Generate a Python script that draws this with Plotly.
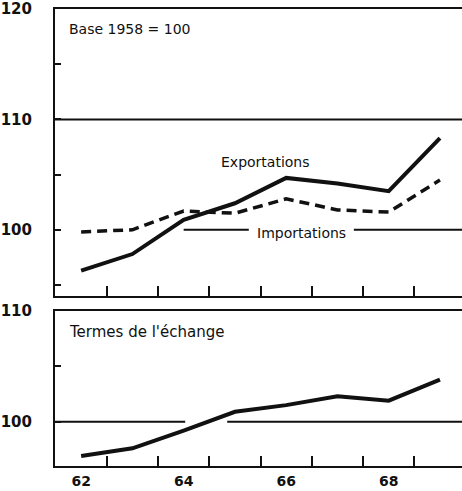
import plotly.graph_objects as go

years = [62, 63, 64, 65, 66, 67, 68, 69]
exportations = [96.3, 97.8, 100.9, 102.4, 104.7, 104.2, 103.5, 108.3]
importations = [99.8, 100.0, 101.7, 101.5, 102.8, 101.8, 101.6, 104.5]
termes = [96.9, 97.6, 99.2, 100.9, 101.5, 102.3, 101.9, 103.8]

x_tick_years = [62, 64, 66, 68]
x_tick_labels = ["62", "64", "66", "68"]
x_minor = [62.5, 63.5, 64.5, 65.5, 66.5, 67.5, 68.5]
top_ticks = [100, 110, 120]
top_minor = [95, 105, 115]
bot_ticks = [100, 110]
bot_minor = [105]

XR = [61.49, 69.43]
TOP_R = [94, 120]
BOT_R = [96, 110]

BLACK = "#111111"
TICKFONT = dict(family="DejaVu Sans", size=15, color=BLACK, weight="bold")
XTICKFONT = dict(family="DejaVu Sans", size=14, color=BLACK, weight="bold")
TXTFONT = dict(family="DejaVu Sans", size=14, color=BLACK)

fig = go.Figure()
fig.add_trace(go.Scatter(x=years, y=exportations, mode="lines",
                         line=dict(color=BLACK, width=4), xaxis="x", yaxis="y"))
fig.add_trace(go.Scatter(x=years, y=importations, mode="lines",
                         line=dict(color=BLACK, width=3.5, dash="10px,6px"), xaxis="x", yaxis="y"))
fig.add_trace(go.Scatter(x=years, y=termes, mode="lines",
                         line=dict(color=BLACK, width=4), xaxis="x2", yaxis="y2"))

top_dom = [0.372, 1.0]
bot_dom = [0.0, 0.339]

xcommon = dict(range=XR, showline=True, linecolor=BLACK, linewidth=2, mirror=True,
               showgrid=False, zeroline=False, fixedrange=True, automargin=False)

fig.update_layout(
    width=462, height=491,
    margin=dict(l=55, r=0, t=9, b=25, autoexpand=False),
    paper_bgcolor="white", plot_bgcolor="white",
    showlegend=False,
    xaxis=dict(**xcommon, anchor="y", domain=[0, 1], tickvals=x_tick_years,
               showticklabels=False, ticks="",
               minor=dict(tickvals=x_minor, ticks="inside", ticklen=10, tickwidth=2, tickcolor=BLACK)),
    xaxis2=dict(**xcommon, anchor="y2", domain=[0, 1], tickvals=x_tick_years, ticktext=x_tick_labels,
                ticks="", tickfont=XTICKFONT, ticklabelstandoff=1,
                minor=dict(tickvals=x_minor, ticks="inside", ticklen=10, tickwidth=2, tickcolor=BLACK)),
    yaxis=dict(range=TOP_R, domain=top_dom, anchor="x", showline=True, linecolor=BLACK, linewidth=2,
               showgrid=False, zeroline=False, tickvals=top_ticks, ticks="inside", ticklen=6,
               tickwidth=2, tickcolor=BLACK, tickfont=TICKFONT, ticklabelstandoff=18, automargin=False,
               fixedrange=True,
               minor=dict(tickvals=top_minor, ticks="inside", ticklen=6, tickwidth=2, tickcolor=BLACK)),
    yaxis3=dict(range=TOP_R, overlaying="y", side="right", anchor="x", showline=False, automargin=False,
                showgrid=False, zeroline=False, showticklabels=False, tickvals=top_minor,
                ticks="inside", ticklen=6, tickwidth=2, tickcolor=BLACK, fixedrange=True),
    yaxis2=dict(range=BOT_R, domain=bot_dom, anchor="x2", showline=True, linecolor=BLACK, linewidth=2,
                showgrid=False, zeroline=False, tickvals=bot_ticks, ticks="inside", ticklen=6,
                tickwidth=2, tickcolor=BLACK, tickfont=TICKFONT, ticklabelstandoff=18, automargin=False,
                fixedrange=True,
                minor=dict(tickvals=bot_minor, ticks="inside", ticklen=6, tickwidth=2, tickcolor=BLACK)),
    yaxis4=dict(range=BOT_R, overlaying="y2", side="right", anchor="x2", showline=False, automargin=False,
                showgrid=False, zeroline=False, showticklabels=False, tickvals=bot_minor,
                ticks="inside", ticklen=6, tickwidth=2, tickcolor=BLACK, fixedrange=True),
)

# reference lines
line_style = dict(color=BLACK, width=2)
fig.add_shape(type="line", xref="x domain", yref="y", x0=0, x1=1, y0=110, y1=110, line=line_style)
fig.add_shape(type="line", xref="x", yref="y", x0=64.0, x1=65.27, y0=100, y1=100, line=line_style)
fig.add_shape(type="line", xref="x", yref="y", x0=67.32, x1=XR[1], y0=100, y1=100, line=line_style)
fig.add_shape(type="line", xref="x2", yref="y2", x0=XR[0], x1=64.03, y0=100, y1=100, line=line_style)
fig.add_shape(type="line", xref="x2", yref="y2", x0=64.85, x1=XR[1], y0=100, y1=100, line=line_style)

# annotations
fig.add_annotation(text="Base 1958 = 100", xref="x", yref="y", x=61.73, y=118.2,
                   xanchor="left", yanchor="middle", showarrow=False, font=TXTFONT)
fig.add_annotation(text="Exportations", xref="x", yref="y", x=65.6, y=106.1,
                   xanchor="center", yanchor="middle", showarrow=False, font=TXTFONT)
fig.add_annotation(text="Importations", xref="x", yref="y", x=66.3, y=99.75,
                   xanchor="center", yanchor="middle", showarrow=False, font=TXTFONT)
fig.add_annotation(text="Termes de l'échange", xref="x2", yref="y2", x=61.73, y=108.1,
                   xanchor="left", yanchor="middle", showarrow=False,
                   font=dict(family="DejaVu Sans", size=15, color=BLACK))

fig.write_html("out.html", config={"displayModeBar": False, "staticPlot": True},
               post_script="document.body.style.margin='0';document.body.style.overflow='hidden';")
